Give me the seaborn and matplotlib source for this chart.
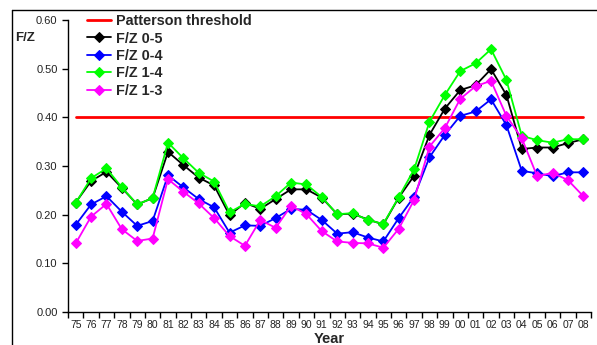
import numpy as np
import pandas as pd
import seaborn as sns
from matplotlib import pyplot as plt
from matplotlib.lines import Line2D

years = ['75', '76', '77', '78', '79', '80', '81', '82', '83', '84', '85', '86',
         '87', '88', '89', '90', '91', '92', '93', '94', '95', '96', '97', '98',
         '99', '00', '01', '02', '03', '04', '05', '06', '07', '08']

fz_05 = [0.225, 0.269, 0.288, 0.255, 0.221, 0.234, 0.329, 0.302, 0.276, 0.260,
         0.199, 0.224, 0.212, 0.232, 0.252, 0.252, 0.235, 0.201, 0.202, 0.190,
         0.180, 0.235, 0.280, 0.364, 0.418, 0.456, 0.466, 0.499, 0.446, 0.335,
         0.338, 0.338, 0.347, 0.355]
fz_04 = [0.179, 0.221, 0.238, 0.206, 0.177, 0.187, 0.281, 0.256, 0.232, 0.215,
         0.163, 0.178, 0.177, 0.193, 0.212, 0.210, 0.189, 0.161, 0.164, 0.153,
         0.145, 0.193, 0.237, 0.318, 0.364, 0.403, 0.412, 0.437, 0.384, 0.290,
         0.285, 0.279, 0.287, 0.287]
fz_14 = [0.224, 0.275, 0.295, 0.256, 0.221, 0.234, 0.348, 0.316, 0.286, 0.268,
         0.205, 0.222, 0.217, 0.238, 0.266, 0.262, 0.236, 0.201, 0.203, 0.189,
         0.181, 0.236, 0.293, 0.391, 0.446, 0.495, 0.511, 0.540, 0.477, 0.362,
         0.353, 0.348, 0.355, 0.355]
fz_13 = [0.141, 0.196, 0.222, 0.170, 0.146, 0.151, 0.273, 0.247, 0.223, 0.193,
         0.156, 0.136, 0.189, 0.173, 0.218, 0.201, 0.166, 0.145, 0.142, 0.141,
         0.132, 0.171, 0.230, 0.340, 0.378, 0.438, 0.464, 0.475, 0.403, 0.357,
         0.279, 0.286, 0.271, 0.238]
threshold = 0.40

series = {
    'F/Z 0-5': (fz_05, 'black'),
    'F/Z 0-4': (fz_04, '#0000ff'),
    'F/Z 1-4': (fz_14, '#00ff00'),
    'F/Z 1-3': (fz_13, '#ff00ff'),
}

sns.set_style('ticks')
plt.rcParams['font.family'] = ['Liberation Sans', 'DejaVu Sans']

fig = plt.figure(figsize=(5.97, 3.45), dpi=100)
ax = fig.add_axes([68 / 597, 1 - 312 / 345, (591 - 68) / 597, (312 - 20) / 345])

x = np.arange(len(years))
sns.lineplot(x=x, y=[threshold] * len(years), ax=ax, color='#ff0000', lw=2,
             label='Patterson threshold')
for name, (vals, col) in series.items():
    sns.lineplot(x=x, y=vals, ax=ax, color=col, lw=1.3, marker='D',
                 markersize=5.5, markeredgecolor=col, label=name)

ax.set_xlim(-0.5, len(years) - 0.5)
ax.set_ylim(0, 0.6)
ax.set_yticks(np.arange(0, 0.61, 0.1))
ax.set_yticklabels([f'{v:.2f}' for v in np.arange(0, 0.61, 0.1)], fontsize=8,
                   color='#222222')
ax.set_xticks(np.arange(-0.5, len(years), 1.0))
ax.set_xticklabels([])
ax.set_xticks(x, minor=True)
ax.set_xticklabels(years, minor=True, fontsize=7.5, color='#222222')
ax.tick_params(axis='x', which='minor', length=0, pad=6)
ax.tick_params(axis='both', which='major', length=4, width=1, color='k')
sns.despine(ax=ax)
for sp in ax.spines.values():
    sp.set_color('k')
    sp.set_linewidth(1)

ax.set_xlabel('Year', fontsize=10.5, fontweight='bold', labelpad=1)
ax.set_ylabel('')
fig.text(15 / 597, 1 - 38 / 345, 'F/Z', fontsize=9.5, fontweight='bold',
         ha='left', va='center')

leg = ax.legend(loc='upper left', frameon=False,
                prop={'weight': 'bold', 'size': 10.4}, labelspacing=0.24,
                handlelength=1.7, handletextpad=0.35, borderaxespad=0.3,
                borderpad=0.4)
leg.set_bbox_to_anchor((19 / 523 - 0.02, 1.055), transform=ax.transAxes)

# outer border (left and top)
fig.add_artist(Line2D([12 / 597, 12 / 597], [0, 1 - 10 / 345], color='k', lw=1))
fig.add_artist(Line2D([12 / 597, 1], [1 - 10 / 345, 1 - 10 / 345], color='k', lw=1))

fig.savefig('out.png', dpi=100)
